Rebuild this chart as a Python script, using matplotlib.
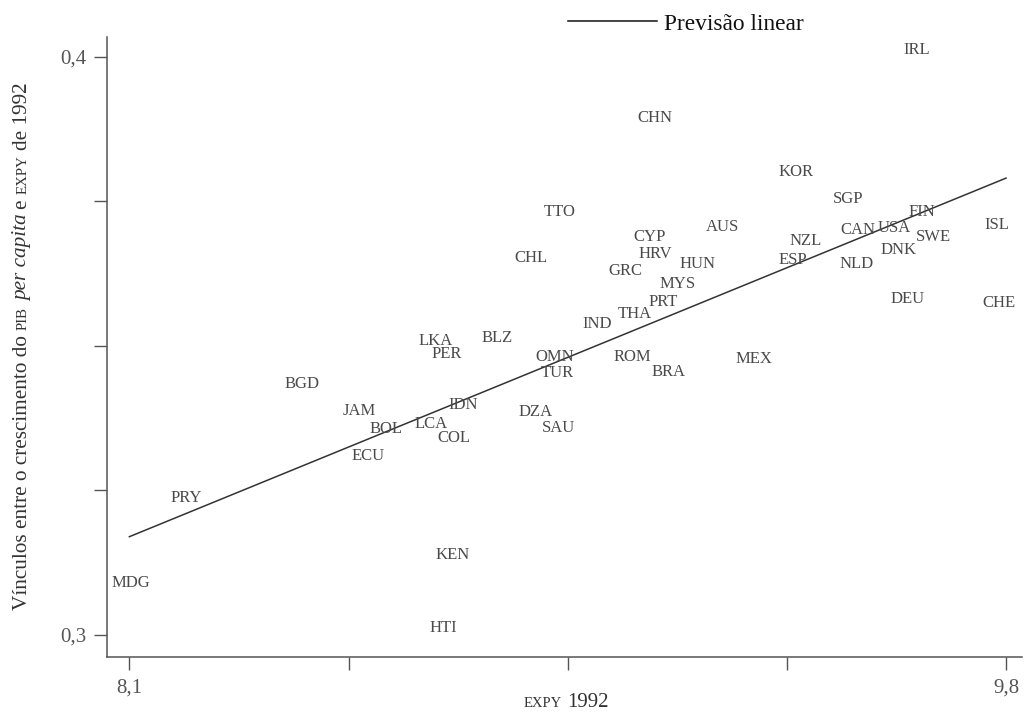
import matplotlib
matplotlib.use("Agg")
import numpy as np
import matplotlib.pyplot as plt
from matplotlib.font_manager import FontProperties

SERIF = "Liberation Serif"
plt.rcParams['font.family'] = [SERIF, 'DejaVu Serif']

# ---- data ----
countries = ["IRL", "CHN", "KOR", "SGP", "TTO", "FIN", "AUS", "ISL", "CAN", "USA",
             "CYP", "SWE", "NZL", "HRV", "DNK", "CHL", "ESP", "HUN", "NLD", "GRC",
             "MYS", "DEU", "CHE", "PRT", "THA", "IND", "BLZ", "LKA", "PER", "OMN",
             "ROM", "MEX", "TUR", "BRA", "BGD", "JAM", "IDN", "DZA", "LCA", "BOL",
             "SAU", "COL", "ECU", "PRY", "KEN", "MDG", "HTI"]
expy_1992 = [9.627, 9.119, 9.392, 9.493, 8.935, 9.637, 9.251, 9.782, 9.512, 9.583,
             9.108, 9.660, 9.412, 9.120, 9.591, 8.878, 9.386, 9.201, 9.511, 9.061,
             9.164, 9.609, 9.786, 9.135, 9.081, 9.008, 8.814, 8.694, 8.716, 8.924,
             9.075, 9.311, 8.930, 9.145, 8.434, 8.545, 8.748, 8.887, 8.686, 8.598,
             8.933, 8.729, 8.562, 8.211, 8.727, 8.103, 8.709]
growth_link = [0.4014, 0.3896, 0.3803, 0.3756, 0.3733, 0.3733, 0.3708, 0.3711, 0.3703, 0.3706,
               0.3691, 0.3690, 0.3684, 0.3662, 0.3668, 0.3655, 0.3651, 0.3644, 0.3644, 0.3632,
               0.3609, 0.3583, 0.3576, 0.3578, 0.3558, 0.3540, 0.3516, 0.3510, 0.3488, 0.3483,
               0.3484, 0.3480, 0.3455, 0.3457, 0.3437, 0.3390, 0.3401, 0.3388, 0.3367, 0.3358,
               0.3360, 0.3343, 0.3312, 0.3240, 0.3140, 0.3092, 0.3014]
fit_x = [8.1, 9.8]
fit_y = [0.317, 0.379]
x_ticks = [8.1, 8.525, 8.95, 9.375, 9.8]
x_ticklabels = ["8,1", "", "", "", "9,8"]
y_ticks = [0.3, 0.325, 0.35, 0.375, 0.4]
y_ticklabels = ["0,3", "", "", "", "0,4"]
legend_label = "Previsão linear"

W, H = 1028, 712
fig = plt.figure(figsize=(W / 100, H / 100), dpi=100)
ax = fig.add_axes([106.7 / W, 1 - 656.7 / H, (1022 - 106.7) / W, (656.7 - 37) / H])
ax.set_xlim(8.056, 9.831)
ax.set_ylim(0.29625, 0.4034)

AXC = "#555555"
for s in ["top", "right"]:
    ax.spines[s].set_visible(False)
for s in ["left", "bottom"]:
    ax.spines[s].set_color(AXC)
    ax.spines[s].set_linewidth(1.1)

ax.set_xticks(x_ticks)
ax.set_xticklabels(x_ticklabels)
ax.set_yticks(y_ticks)
ax.set_yticklabels(y_ticklabels)
ax.tick_params(direction="out", length=9.5, width=1.0, color=AXC,
               labelsize=15, labelcolor=AXC)
ax.tick_params(axis="x", pad=6)
ax.tick_params(axis="y", pad=5)

line, = ax.plot(fit_x, fit_y, color="#333333", lw=1.1, label=legend_label)

for c, x, y in zip(countries, expy_1992, growth_link):
    ax.annotate(c, (x, y), xytext=(0, -3.9), textcoords="offset points",
                ha="center", va="baseline", fontsize=12, color="#4a4a4a")

ax.legend(handles=[line], loc="center left",
          bbox_to_anchor=(568 / W, 1 - 24 / H), bbox_transform=fig.transFigure,
          frameon=False, handlelength=3.8, handletextpad=0.3,
          borderpad=0, borderaxespad=0,
          prop=FontProperties(family=SERIF, size=16.8))
for t in ax.get_legend().get_texts():
    t.set_color("#111111")
ax.get_legend().get_lines()[0].set_color("#111111")

renderer = fig.canvas.get_renderer()


def adv(s, fp):
    w1 = renderer.get_text_width_height_descent("|" + s + "|", fp, ismath=False)[0]
    w0 = renderer.get_text_width_height_descent("||", fp, ismath=False)[0]
    return w1 - w0


def rich(pieces, x0, y0, rotation, color):
    ang = np.deg2rad(rotation)
    dx, dy = np.cos(ang), np.sin(ang)
    pos = 0.0
    for s, size, style in pieces:
        fp = FontProperties(family=SERIF, size=size, style=style)
        lead = len(s) - len(s.lstrip(" "))
        if lead:
            pos += adv(s[:lead], fp)
        body = s[lead:]
        if body.strip():
            fig.text((x0 + pos * dx) / W, (y0 + pos * dy) / H, body,
                     fontproperties=fp, rotation=rotation, rotation_mode="anchor",
                     ha="left", va="baseline", color=color)
        pos += adv(body, fp)


SC = 10.7
ylabel_pieces = [("Vínculos entre o crescimento do ", 15.3, "normal"),
                 ("PIB", SC, "normal"),
                 (" per capita", 15.3, "italic"),
                 (" e ", 15.3, "normal"),
                 ("EXPY", SC, "normal"),
                 (" de 1992", 15.3, "normal")]
rich(ylabel_pieces, 27, H - 610, 90, "#333333")

xlabel_pieces = [("EXPY", 10.5, "normal"), (" 1992", 15, "normal")]
rich(xlabel_pieces, 524, H - 707, 0, "#333333")

fig.savefig("out.png", dpi=100)
